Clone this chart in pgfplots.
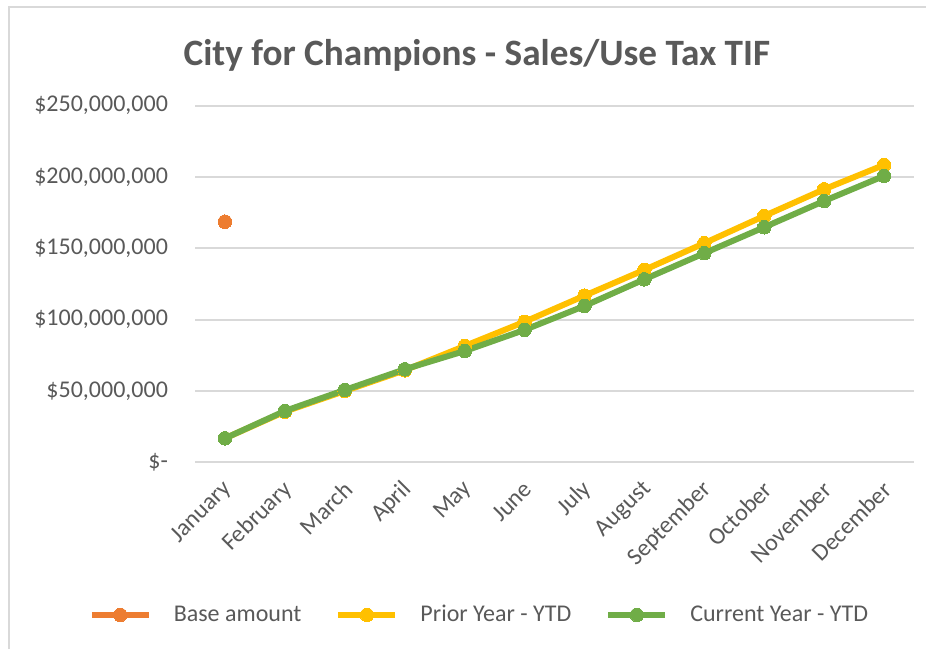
\documentclass[border=0pt]{standalone}
\usepackage{pgfplots}
\pgfplotsset{compat=1.18}
\usepackage{fontspec}
\setmainfont{Carlito}
\definecolor{cOrange}{HTML}{ED7D31}
\definecolor{cYellow}{HTML}{FFC000}
\definecolor{cGreen}{HTML}{70AD47}
\definecolor{cGrid}{HTML}{D9D9D9}
\definecolor{cText}{HTML}{595959}
\begin{document}
\begin{tikzpicture}
\useasboundingbox (0,0) rectangle (463pt,324.5pt);
\draw[cGrid, line width=1pt] (4.5pt,0) -- (4.5pt,321pt) -- (463pt,321pt);
\begin{axis}[
  at={(97.5pt,93.35pt)}, anchor=south west,
  scale only axis, width=359.5pt, height=178.3pt,
  xmin=-0.5, xmax=11.5, ymin=0, ymax=250,
  axis line style={draw=none},
  tick style={draw=none},
  ymajorgrids, grid style={cGrid, line width=1pt},
  ytick={0,50,100,150,200,250},
  yticklabels={\$-\hspace{5.5pt}, \$50{,}000{,}000, \$100{,}000{,}000, \$150{,}000{,}000, \$200{,}000{,}000, \$250{,}000{,}000},
  xtick={0,...,11},
  xticklabels={January,February,March,April,May,June,July,August,September,October,November,December},
  /pgf/number format/assume math mode=true,
  ticklabel style={font=\fontsize{12}{14}\selectfont, text=cText},
  yticklabel style={xshift=-10pt},
  xticklabel style={rotate=45, anchor=east, xshift=-3.6pt, yshift=-9.5pt},
  title={City for Champions - Sales/Use Tax TIF},
  title style={at={(0.392,1.107)}, anchor=center, font=\fontsize{18.6}{22}\selectfont\bfseries, text=cText},
  legend columns=3,
  legend style={at={(0.397,-0.428)}, anchor=center, draw=none, fill=none,
    font=\fontsize{12}{14}\selectfont, text=cText,
    /tikz/every even column/.append style={column sep=15pt}},
  legend image code/.code={\draw[mark repeat=2,mark phase=2,#1] plot coordinates {(0pt,0pt) (14.25pt,0pt) (28.5pt,0pt)};},
  legend cell align=left,
  clip=false,
]
\addplot[cOrange, line width=3pt, mark=*, mark size=3.4pt, mark options={fill=cOrange, draw=cOrange, line width=0pt}]
  coordinates {(0,168.7)};
\addlegendentry{\hspace{9pt}Base amount}
\addplot[cYellow, line width=3pt, mark=*, mark size=3.4pt, mark options={fill=cYellow, draw=cYellow, line width=0pt}]
  coordinates {(0,16.8) (1,35.5) (2,50.0) (3,64.5) (4,81.5) (5,98.5) (6,116.8) (7,134.9) (8,153.6) (9,172.7) (10,191.4) (11,208.5)};
\addlegendentry{\hspace{9pt}Prior Year - YTD}
\addplot[cGreen, line width=3pt, mark=*, mark size=3.4pt, mark options={fill=cGreen, draw=cGreen, line width=0pt}]
  coordinates {(0,16.8) (1,36.0) (2,50.7) (3,65.2) (4,78.0) (5,92.8) (6,109.6) (7,128.3) (8,146.6) (9,164.8) (10,183.2) (11,200.8)};
\addlegendentry{\hspace{9pt}Current Year - YTD}
\end{axis}
\end{tikzpicture}
\end{document}
